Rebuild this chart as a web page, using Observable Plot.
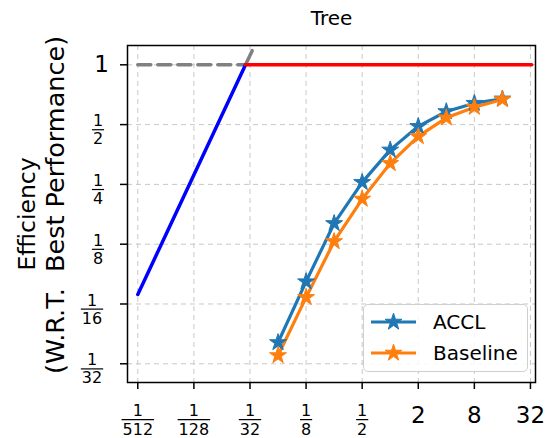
<!DOCTYPE html>
<html><head><meta charset="utf-8">
<script src="https://cdn.jsdelivr.net/npm/d3@7"></script>
<script src="https://cdn.jsdelivr.net/npm/@observablehq/plot@0.6"></script>
<style>
body{margin:0;background:#fff;font-family:"DejaVu Sans",sans-serif;}
#wrap{position:relative;width:547px;height:438px;}
#legend{position:absolute;left:363px;top:304px;width:163px;height:66px;border:1.2px solid #cfcfcf;border-radius:5px;background:rgba(255,255,255,0.85);}
</style></head>
<body><div id="wrap"></div>
<script>
// data
const title = "Tree";
const yLabelLine1 = "Efficiency";
const yLabelLine2 = ["(W.R.T.", "Best Performance)"];
const xValues = [1/16, 1/8, 1/4, 1/2, 1, 2, 4, 8, 16];
const acclValues = [0.040, 0.081, 0.159, 0.256, 0.373, 0.490, 0.582, 0.641, 0.674];
const baselineValues = [0.0344, 0.0675, 0.129, 0.211, 0.319, 0.436, 0.541, 0.612, 0.669];
const seriesNames = ["ACCL", "Baseline"];
const seriesColors = ["#1f77b4", "#ff7f0e"];
const ridge = 0.028;            // roofline ridge point
const roofStart = 1/512;
const roofEnd = 33;
const roofTop = 0.033;          // end of grey extension of memory slope
const xTickValues = [1/512, 1/128, 1/32, 1/8, 1/2, 2, 8, 32];
const xTickLabels = ["1/512", "1/128", "1/32", "1/8", "1/2", "2", "8", "32"];
const yTickValues = [1/32, 1/16, 1/8, 1/4, 1/2, 1];
const yTickLabels = ["1/32", "1/16", "1/8", "1/4", "1/2", "1"];

const series = [];
seriesNames.forEach((name, k) => {
  const vals = k === 0 ? acclValues : baselineValues;
  xValues.forEach((x, i) => series.push({name, x, y: vals[i]}));
});
const memLine = [roofStart, ridge].map(x => ({x, y: x / ridge}));
const memExt = [ridge, roofTop].map(x => ({x, y: x / ridge}));
const compLine = [ridge, roofEnd].map(x => ({x, y: 1}));
const dashLine = [roofStart, ridge].map(x => ({x, y: 1}));

const xt = xTickValues.map((v, i) => ({v, s: xTickLabels[i]}));
const yt = yTickValues.map((v, i) => ({v, s: yTickLabels[i]}));
const isFrac = d => d.s.includes("/");
const xInt = xt.filter(d => !isFrac(d));
const xFrac = xt.filter(isFrac);
const yInt = yt.filter(d => !isFrac(d));
const yFrac1 = yt.filter(d => isFrac(d) && d.s.split("/")[1].length === 1);
const yFrac2 = yt.filter(d => isFrac(d) && d.s.split("/")[1].length === 2);
const num = d => d.s.split("/")[0];
const den = d => d.s.split("/")[1];
const ff = "DejaVu Sans";
const T = {fontFamily: ff, fill: "black", textAnchor: "middle", lineAnchor: "middle"};

const chart = Plot.plot({
  width: 547, height: 438,
  marginLeft: 127, marginRight: 12, marginTop: 45, marginBottom: 56,
  style: {fontFamily: ff, background: "white", color: "black"},
  x: {type: "log", base: 2, domain: [2 ** -9.367, 2 ** 5.18]},
  y: {type: "log", base: 2, domain: [2 ** -5.313, 2 ** 0.323]},
  color: {domain: seriesNames, range: seriesColors},
  marks: [
    Plot.gridX(xTickValues, {stroke: "#c8c8c8", strokeOpacity: 1, strokeDasharray: "5,4", strokeWidth: 1}),
    Plot.gridY(yTickValues, {stroke: "#c8c8c8", strokeOpacity: 1, strokeDasharray: "5,4", strokeWidth: 1}),
    Plot.line(dashLine, {x: "x", y: "y", stroke: "gray", strokeWidth: 3.5, strokeDasharray: "13,7"}),
    Plot.line(memExt, {x: "x", y: "y", stroke: "gray", strokeWidth: 3.5, clip: true}),
    Plot.line(memLine, {x: "x", y: "y", stroke: "blue", strokeWidth: 3.5}),
    Plot.line(compLine, {x: "x", y: "y", stroke: "red", strokeWidth: 3.5, clip: true}),
    Plot.line(series, {x: "x", y: "y", z: "name", stroke: "name", strokeWidth: 3.2}),
    Plot.dot(series, {x: "x", y: "y", fill: "name", symbol: "star", r: 5.3, stroke: "name", strokeWidth: 1}),
    Plot.frame({stroke: "black", strokeWidth: 1.5}),
    Plot.axisX(xTickValues, {tickSize: 7, strokeWidth: 1.5, tickFormat: () => "", label: null}),
    Plot.axisY(yTickValues, {tickSize: 7, strokeWidth: 1.5, tickFormat: () => "", label: null}),
    // x tick labels
    Plot.text(xInt, {...T, x: "v", text: "s", frameAnchor: "bottom", dy: 33, fontSize: 23}),
    Plot.text(xFrac, {...T, x: "v", text: num, frameAnchor: "bottom", dy: 28, fontSize: 16, ariaDescription: "numx"}),
    Plot.text(xFrac, {...T, x: "v", text: den, frameAnchor: "bottom", dy: 47, fontSize: 16, ariaDescription: "denx"}),
    // y tick labels
    Plot.text(yInt, {...T, y: "v", text: "s", frameAnchor: "left", dx: -26, fontSize: 23}),
    Plot.text(yFrac1, {...T, y: "v", text: num, frameAnchor: "left", dx: -29.5, dy: -3.5, fontSize: 16, ariaDescription: "numy"}),
    Plot.text(yFrac1, {...T, y: "v", text: den, frameAnchor: "left", dx: -29.5, dy: 14.5, fontSize: 16, ariaDescription: "deny"}),
    Plot.text(yFrac2, {...T, y: "v", text: num, frameAnchor: "left", dx: -35.5, dy: -3.5, fontSize: 16, ariaDescription: "numy"}),
    Plot.text(yFrac2, {...T, y: "v", text: den, frameAnchor: "left", dx: -35.5, dy: 14.5, fontSize: 16, ariaDescription: "deny"}),
    // title
    Plot.text([title], {...T, frameAnchor: "top", dy: -26.5, fontSize: 20})
  ]
});
const wrap = document.getElementById("wrap");
wrap.appendChild(chart);

const root = d3.select(chart);
// fraction bars, midway between numerator and denominator
const sr = chart.getBoundingClientRect();
["x", "y"].forEach(k => {
  const nums = [...chart.querySelectorAll(`g[aria-description="num${k}"] text`)];
  const dens = [...chart.querySelectorAll(`g[aria-description="den${k}"] text`)];
  dens.forEach((t, i) => {
    const r = t.getBoundingClientRect();
    const rn = nums[i].getBoundingClientRect();
    const cy = ((r.top + r.bottom) / 2 + (rn.top + rn.bottom) / 2) / 2 - sr.top;
    root.append("line")
      .attr("x1", r.left - sr.left - 1).attr("x2", r.right - sr.left + 1)
      .attr("y1", cy).attr("y2", cy)
      .attr("stroke", "black").attr("stroke-width", 1.2);
  });
});
// y axis label (two lines, rotated)
root.append("text")
  .attr("transform", "translate(27,214) rotate(-90)")
  .attr("text-anchor", "middle").attr("dy", "0.35em")
  .attr("font-family", ff).attr("font-size", 23.5).attr("fill", "black")
  .text(yLabelLine1);
const l2 = root.append("text")
  .attr("transform", "translate(55,205) rotate(-90)")
  .attr("text-anchor", "middle").attr("dy", "0.35em")
  .attr("font-family", ff).attr("font-size", 25.5).attr("fill", "black");
l2.append("tspan").text(yLabelLine2[0]);
l2.append("tspan").attr("dx", 8).text(" " + yLabelLine2[1]);

// legend
const leg = document.createElement("div");
leg.id = "legend";
const svg = d3.create("svg").attr("width", 163).attr("height", 66)
  .style("position", "absolute").style("left", "0").style("top", "0");
const star = d3.symbol(d3.symbolStar, 5.3 * 5.3 * Math.PI)();
seriesNames.forEach((name, i) => {
  const g = svg.append("g").attr("transform", `translate(0,${17 + i * 31})`);
  g.append("line").attr("x1", 7).attr("x2", 52).attr("stroke", seriesColors[i]).attr("stroke-width", 3.2);
  g.append("path").attr("d", star).attr("transform", "translate(29.5,0)").attr("fill", seriesColors[i]).attr("stroke", seriesColors[i]);
  g.append("text").attr("x", 69).attr("dy", "0.35em").attr("font-size", 20).attr("font-family", ff).attr("fill", "black").text(name);
});
leg.appendChild(svg.node());
wrap.appendChild(leg);
</script></body></html>
